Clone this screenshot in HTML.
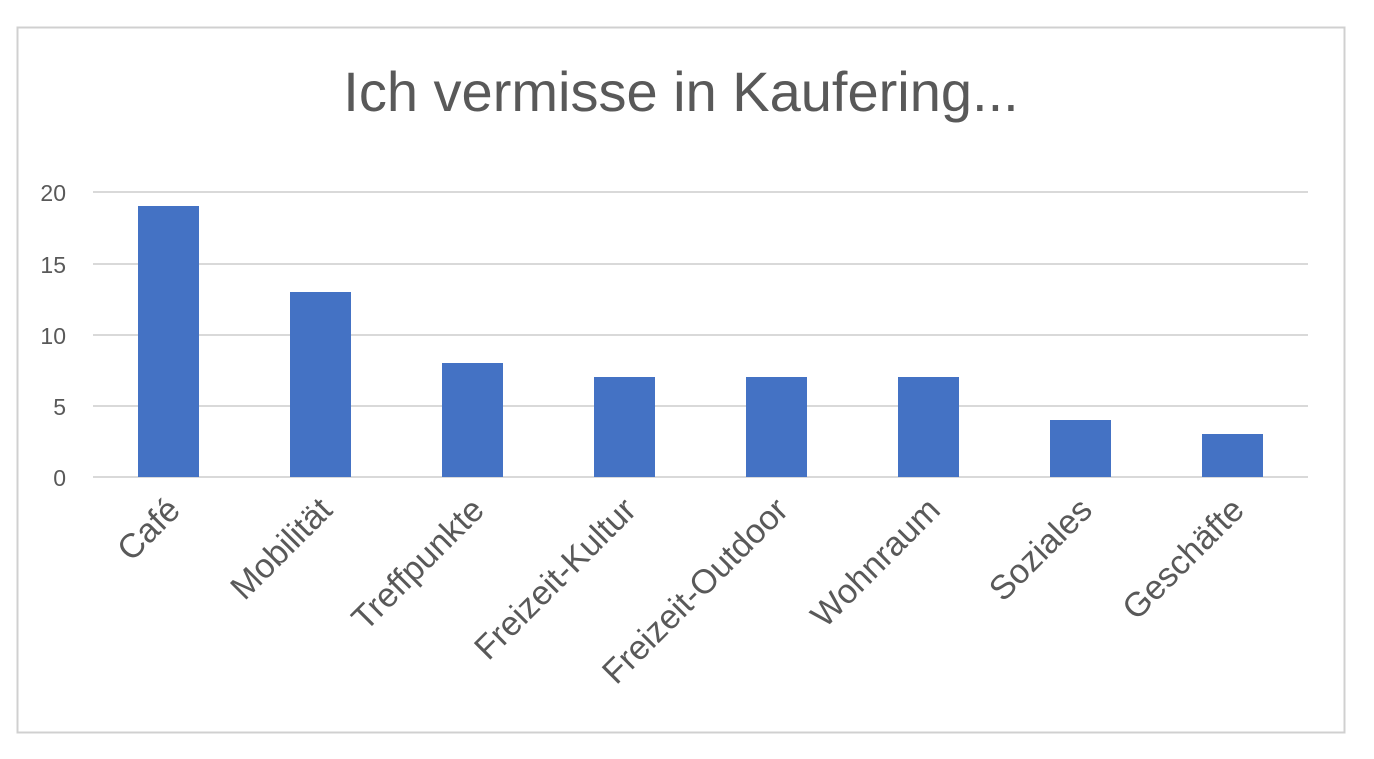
<!DOCTYPE html>
<html><head><meta charset="utf-8"><style>
html,body{margin:0;padding:0;background:#fff;}
</style></head><body>
<svg width="1374" height="754" xmlns="http://www.w3.org/2000/svg" font-family="Liberation Sans, sans-serif">
<rect x="0" y="0" width="1374" height="754" fill="#fff"/>
<rect x="17.5" y="27.5" width="1327" height="705" fill="#fff" stroke="#d0d0d0" stroke-width="2"/>
<text x="681" y="111" text-anchor="middle" font-size="56" fill="#595959">Ich vermisse in Kaufering...</text>
<g stroke="#d9d9d9" stroke-width="2">
<line x1="93" y1="192" x2="1308" y2="192"/>
<line x1="93" y1="264" x2="1308" y2="264"/>
<line x1="93" y1="335" x2="1308" y2="335"/>
<line x1="93" y1="406" x2="1308" y2="406"/>
<line x1="93" y1="477" x2="1308" y2="477"/>
</g>
<g font-size="23" fill="#595959" text-anchor="end">
<text x="66" y="201">20</text>
<text x="66" y="273">15</text>
<text x="66" y="344">10</text>
<text x="66" y="415">5</text>
<text x="66" y="486">0</text>
</g>
<g fill="#4472c4">
<rect x="138" y="206" width="61" height="271"/>
<rect x="290" y="292" width="61" height="185"/>
<rect x="442" y="363" width="61" height="114"/>
<rect x="594" y="377" width="61" height="100"/>
<rect x="746" y="377" width="61" height="100"/>
<rect x="898" y="377" width="61" height="100"/>
<rect x="1050" y="420" width="61" height="57"/>
<rect x="1202" y="434" width="61" height="43"/>
</g>
<g font-size="34" fill="#595959" text-anchor="end">
<text transform="translate(182,512) rotate(-45)">Café</text>
<text transform="translate(334,512) rotate(-45)">Mobilität</text>
<text transform="translate(486,512) rotate(-45)">Treffpunkte</text>
<text transform="translate(638,512) rotate(-45)">Freizeit-Kultur</text>
<text transform="translate(790,512) rotate(-45)">Freizeit-Outdoor</text>
<text transform="translate(942,512) rotate(-45)">Wohnraum</text>
<text transform="translate(1094,512) rotate(-45)">Soziales</text>
<text transform="translate(1246,512) rotate(-45)">Geschäfte</text>
</g>
</svg>
</body></html>
